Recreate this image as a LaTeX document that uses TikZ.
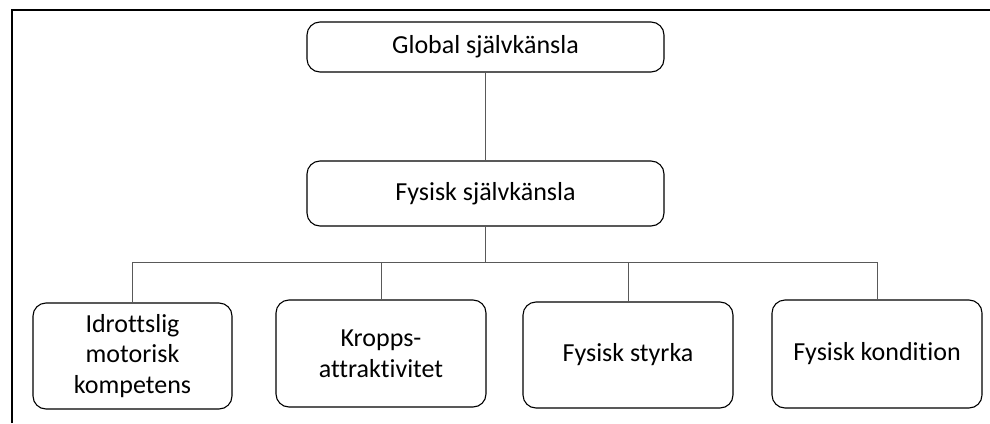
\documentclass[tikz,border=0pt]{standalone}
\usepackage{fontspec}
\setmainfont{Carlito}[Ligatures=NoCommon]
\usepackage{tikz}
\usetikzlibrary{calc}
\usetikzlibrary{positioning}
\tikzset{>=latex}
\tikzstyle{box} = [rectangle, rounded corners=13pt, draw=black, line width=1.1pt, align=center, font=\fontsize{26}{30.5}\selectfont, inner sep=0pt]
\tikzstyle{link} = [-, draw=black!65, line width=1pt]

\begin{document}
\begin{tikzpicture}[x=1pt, y=-1pt]
\useasboundingbox (0,0) rectangle (990,423);
\draw [line width=1.6pt] (12,423) -- (12,10) -- (990,10);
\node [box, minimum width=357pt, minimum height=50pt] (G) at (485.5, 47) {Global självkänsla};
\node [box, minimum width=357pt, minimum height=65pt] (F) at (485.5, 193.5) {Fysisk självkänsla};
\node [box, minimum width=199pt, minimum height=106pt] (I) at (132.5, 356) {Idrottslig\\motorisk\\kompetens};
\node [box, minimum width=210pt, minimum height=107pt] (K) at (381, 353.5) {Kropps-\\attraktivitet};
\node [box, minimum width=210pt, minimum height=106pt] (S) at (628, 355) {Fysisk styrka};
\node [box, minimum width=210pt, minimum height=108pt] (C) at (877, 354) {Fysisk kondition};
\coordinate (bus) at (485.5, 262);
\draw [link] (G) -- (F);
\draw [link] (F) -- (bus);
\draw [link] (bus) -| (I);
\draw [link] (bus) -| (K);
\draw [link] (bus) -| (S);
\draw [link] (bus) -| (C);
\end{tikzpicture}
\end{document}
